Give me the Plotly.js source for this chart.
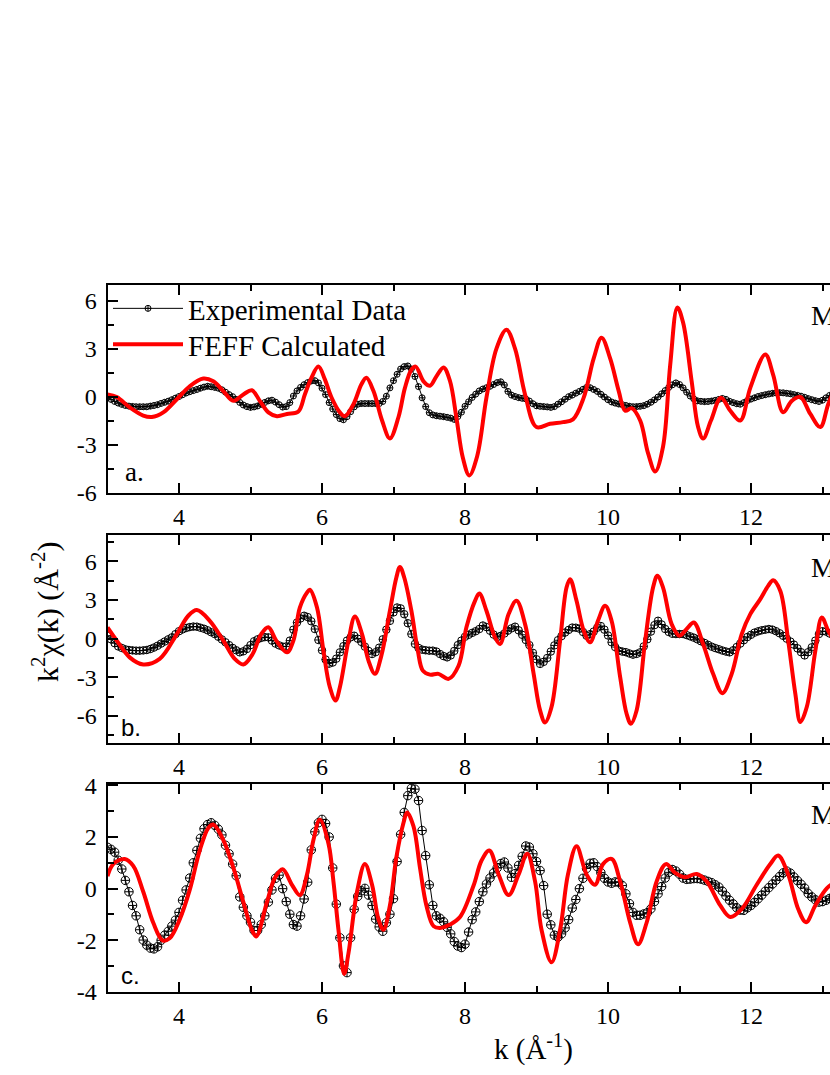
<!DOCTYPE html>
<html>
<head>
<meta charset="utf-8">
<script src="https://cdn.plot.ly/plotly-3.0.1.min.js"></script>
<style>
html,body{margin:0;padding:0;overflow:hidden;background:#fff;}
#chart{width:940px;height:1075px;}
</style>
</head>
<body>
<div id="chart"></div>
<script>
// ---------- DATA ----------
// Experimental data sampled every 0.05 Å^-1 starting at k = 3.00
const kStart = 3.0;
const kStep = 0.05;

const expA = [
-0.04,-0.15,-0.28,-0.38,-0.46,-0.53,-0.57,-0.59,-0.61,-0.61,-0.61,-0.61,-0.57,-0.53,-0.48,-0.40,-0.33,-0.26,-0.17,-0.07,
0.03,0.14,0.25,0.33,0.40,0.47,0.55,0.62,0.67,0.64,0.60,0.55,0.45,0.30,0.15,0.02,-0.15,-0.34,-0.50,-0.60,
-0.65,-0.62,-0.56,-0.46,-0.34,-0.24,-0.20,-0.32,-0.48,-0.63,-0.60,-0.35,0.06,0.38,0.60,0.77,0.90,1.00,1.02,0.88,
0.55,0.15,-0.35,-0.75,-1.10,-1.35,-1.42,-1.23,-0.92,-0.62,-0.45,-0.41,-0.41,-0.41,-0.41,-0.41,-0.41,-0.28,0.05,0.57,
1.02,1.42,1.75,1.90,1.94,1.75,1.28,0.65,-0.05,-0.60,-0.98,-1.12,-1.17,-1.20,-1.23,-1.27,-1.32,-1.40,-1.22,-0.95,
-0.58,-0.30,-0.03,0.18,0.38,0.50,0.58,0.67,0.78,0.90,0.95,0.75,0.35,0.12,0.03,-0.04,-0.08,-0.12,-0.25,-0.42,
-0.55,-0.58,-0.60,-0.62,-0.65,-0.60,-0.45,-0.30,-0.14,0.02,0.12,0.24,0.35,0.48,0.60,0.58,0.47,0.35,0.17,0.00,
-0.17,-0.31,-0.38,-0.44,-0.48,-0.53,-0.58,-0.61,-0.60,-0.58,-0.54,-0.45,-0.33,-0.18,0.00,0.20,0.40,0.60,0.76,0.88,
0.78,0.57,0.30,0.06,-0.12,-0.24,-0.27,-0.29,-0.28,-0.25,-0.21,-0.15,-0.09,-0.15,-0.27,-0.35,-0.42,-0.45,-0.35,-0.22,
-0.13,-0.05,0.03,0.09,0.14,0.19,0.23,0.26,0.27,0.26,0.23,0.20,0.15,0.10,0.05,-0.02,-0.10,-0.17,-0.23,-0.28,
-0.20,-0.05,0.10,0.20,0.25
];

const expB = [
0.23,-0.05,-0.35,-0.60,-0.72,-0.83,-0.88,-0.91,-0.93,-0.93,-0.91,-0.88,-0.80,-0.69,-0.55,-0.38,-0.22,-0.05,0.10,0.35,
0.58,0.72,0.83,0.90,0.94,0.93,0.85,0.77,0.65,0.50,0.36,0.15,-0.06,-0.28,-0.50,-0.72,-0.90,-1.06,-0.98,-0.80,
-0.50,-0.20,-0.05,0.06,0.12,0.10,-0.15,-0.38,-0.52,-0.62,-0.60,-0.15,0.70,1.25,1.58,1.78,1.68,1.35,0.75,-0.10,
-0.90,-1.62,-1.94,-1.85,-1.55,-1.06,-0.58,-0.15,0.10,0.23,0.00,-0.25,-0.62,-0.95,-1.19,-1.05,-0.70,-0.05,0.70,1.38,
2.04,2.42,2.35,1.90,1.20,0.36,-0.41,-0.72,-0.85,-0.90,-0.93,-0.93,-1.00,-1.19,-1.35,-1.45,-1.30,-0.95,-0.50,-0.15,
0.15,0.30,0.45,0.58,0.75,1.02,0.90,0.62,0.32,0.12,0.22,0.40,0.62,0.80,0.93,0.65,0.30,-0.10,-0.50,-1.10,
-1.60,-1.96,-1.80,-1.50,-1.00,-0.52,-0.12,0.20,0.48,0.68,0.86,0.85,0.78,0.52,0.23,0.35,0.55,0.85,0.98,0.70,
0.25,-0.28,-0.65,-0.93,-1.00,-1.05,-1.15,-1.24,-1.18,-1.06,-0.60,-0.05,0.55,1.05,1.39,1.10,0.75,0.52,0.38,0.36,
0.36,0.36,0.28,0.18,0.08,-0.05,-0.20,-0.33,-0.48,-0.62,-0.73,-0.82,-0.92,-1.00,-1.06,-0.90,-0.65,-0.38,-0.12,0.13,
0.30,0.47,0.57,0.65,0.70,0.75,0.70,0.58,0.42,0.22,0.00,-0.22,-0.46,-0.75,-1.05,-1.30,-1.05,-0.67,-0.15,0.36,
0.58,0.55,0.40,0.25,0.15
];

const expC = [
1.60,1.52,1.41,1.10,0.76,0.32,-0.12,-0.65,-1.05,-1.59,-1.99,-2.19,-2.30,-2.33,-2.25,-2.00,-1.80,-1.65,-1.45,-1.22,
-0.92,-0.45,-0.05,0.41,1.00,1.48,1.95,2.32,2.48,2.55,2.45,2.30,2.08,1.68,1.35,0.95,0.50,-0.32,-0.72,-1.05,
-1.30,-1.62,-1.62,-1.39,-1.05,-0.52,-0.05,0.40,0.52,0.00,-0.50,-0.99,-1.39,-1.45,-1.05,-0.40,0.25,1.50,2.20,2.55,
2.68,2.52,2.00,0.80,-0.60,-1.90,-2.99,-3.25,-1.90,-0.80,-0.30,-0.08,0.01,-0.25,-0.65,-1.18,-1.48,-1.65,-1.32,-0.99,
-0.39,1.05,2.10,2.95,3.60,3.88,3.85,3.41,2.25,1.28,0.15,-0.65,-1.05,-1.15,-1.28,-1.50,-1.75,-2.05,-2.22,-2.28,
-2.15,-1.68,-1.20,-0.90,-0.50,-0.12,0.18,0.41,0.61,0.80,0.97,1.03,0.80,0.44,0.58,0.90,1.25,1.65,1.61,1.35,
1.05,0.70,0.12,-0.99,-1.40,-1.80,-1.88,-1.75,-1.52,-1.20,-0.75,-0.42,0.00,0.40,0.78,0.98,1.00,0.85,0.62,0.40,
0.26,0.21,0.26,0.25,0.12,-0.20,-0.58,-0.92,-1.03,-1.03,-0.98,-0.93,-0.78,-0.50,-0.20,0.08,0.41,0.63,0.74,0.68,
0.56,0.41,0.36,0.37,0.39,0.39,0.37,0.33,0.28,0.23,0.15,0.06,-0.10,-0.28,-0.45,-0.59,-0.74,-0.83,-0.84,-0.74,
-0.65,-0.53,-0.39,-0.25,-0.10,0.04,0.18,0.33,0.47,0.61,0.68,0.60,0.45,0.31,0.17,0.02,-0.19,-0.32,-0.43,-0.52,
-0.50,-0.45,-0.38,-0.30,-0.25
];

// FEFF calculated curves (k positions and values)
const feffA_k = [3.0,3.13,3.31,3.50,3.62,3.78,3.97,4.15,4.34,4.48,4.62,4.76,4.90,5.02,5.13,5.25,5.37,5.51,5.67,5.76,5.85,5.95,6.04,6.13,6.25,6.32,6.44,6.55,6.62,6.72,6.84,6.95,7.07,7.16,7.25,7.31,7.42,7.51,7.60,7.70,7.79,7.88,7.97,8.06,8.17,8.30,8.44,8.58,8.70,8.84,9.00,9.19,9.37,9.51,9.66,9.80,9.91,10.03,10.15,10.24,10.33,10.45,10.56,10.66,10.77,10.87,10.97,11.05,11.17,11.26,11.33,11.44,11.58,11.71,11.85,11.99,12.20,12.31,12.45,12.57,12.69,12.83,12.97,13.08,13.2];
const feffA_v = [0.16,0.0,-0.65,-1.16,-1.25,-0.96,-0.14,0.67,1.15,0.98,0.37,-0.24,0.16,0.42,-0.24,-0.96,-1.2,-1.06,-0.9,0.16,1.18,1.9,1.1,0.0,-0.96,-1.2,-0.45,0.78,1.2,0.37,-1.47,-2.59,-1.25,0.57,1.70,1.9,0.98,0.70,1.29,1.85,1.0,-1.3,-3.8,-4.9,-3.7,-0.04,3.02,4.2,3.02,0.16,-1.88,-1.67,-1.57,-1.40,-0.04,2.41,3.7,2.41,0.37,-0.86,-0.70,-1.47,-3.51,-4.65,-3.1,2.0,5.6,4.65,0.98,-1.88,-2.6,-1.47,-0.05,-0.86,-1.47,0.57,2.65,1.39,-0.96,-0.24,0.0,-1.06,-1.88,-0.45,0.8];

const feffB_k = [3.0,3.13,3.31,3.50,3.73,3.97,4.13,4.25,4.43,4.62,4.78,4.90,5.03,5.15,5.25,5.36,5.51,5.60,5.69,5.79,5.83,5.93,6.02,6.11,6.19,6.25,6.37,6.46,6.56,6.65,6.74,6.83,6.95,7.04,7.09,7.15,7.25,7.34,7.41,7.51,7.63,7.77,7.91,8.02,8.14,8.20,8.30,8.42,8.49,8.61,8.72,8.84,8.96,9.05,9.12,9.21,9.33,9.42,9.47,9.56,9.66,9.75,9.86,9.96,10.05,10.17,10.26,10.32,10.40,10.52,10.63,10.69,10.77,10.89,11.0,11.10,11.20,11.33,11.47,11.60,11.73,11.87,11.99,12.13,12.24,12.31,12.41,12.52,12.62,12.69,12.78,12.90,12.99,13.08,13.2];
const feffB_v = [0.88,-0.15,-1.45,-2.0,-1.57,0.36,1.78,2.22,1.39,-0.15,-1.57,-2.0,-1.19,0.36,0.88,-0.15,-1.06,-0.15,2.42,3.58,3.8,2.42,-0.93,-3.77,-4.8,-3.77,-0.15,1.72,0.36,-1.7,-2.73,-1.32,2.17,4.75,5.57,4.75,2.17,-0.93,-2.48,-2.79,-2.73,-3.12,-2.1,0.88,2.94,3.51,2.17,0.1,-0.41,1.91,2.94,1.13,-2.73,-5.57,-6.5,-5.31,-0.15,3.97,4.62,2.94,0.62,-0.28,1.39,2.55,1.39,-2.98,-5.83,-6.6,-5.57,-0.15,3.97,4.88,3.97,1.13,0.23,0.75,1.26,-0.41,-2.73,-4.23,-2.73,0.36,1.91,3.07,4.10,4.54,3.71,-0.15,-4.28,-6.47,-5.31,-0.93,1.65,0.62,-0.5];

const feffC_k = [3.0,3.08,3.24,3.36,3.50,3.64,3.77,3.87,4.01,4.15,4.29,4.41,4.48,4.62,4.76,4.90,5.02,5.08,5.23,5.34,5.45,5.58,5.69,5.79,5.88,5.97,6.09,6.16,6.23,6.31,6.37,6.49,6.60,6.70,6.79,6.86,6.95,7.04,7.14,7.19,7.28,7.37,7.46,7.56,7.65,7.79,7.93,8.12,8.23,8.34,8.47,8.61,8.75,8.87,8.98,9.07,9.21,9.33,9.44,9.56,9.70,9.82,9.93,10.05,10.17,10.31,10.42,10.54,10.68,10.81,10.94,11.08,11.24,11.38,11.57,11.71,11.87,12.08,12.27,12.38,12.52,12.66,12.77,12.90,13.06,13.2];
const feffC_v = [0.48,0.95,1.15,0.88,-0.12,-1.32,-2.0,-1.92,-1.19,-0.05,1.48,2.35,2.48,1.88,0.81,-0.52,-1.6,-1.85,-0.52,0.41,0.75,0.15,-0.25,0.55,1.88,2.68,1.75,0.28,-1.59,-3.3,-2.5,-0.12,0.95,0.15,-1.19,-1.59,-0.65,1.21,2.55,2.95,2.41,0.81,-0.65,-1.45,-1.52,-1.39,-1.1,0.12,1.08,1.48,0.55,-0.25,0.55,1.35,0.28,-1.59,-2.85,-1.59,0.55,1.64,0.55,0.15,0.95,1.15,0.28,-1.32,-2.15,-1.32,0.28,0.95,0.61,0.44,0.57,0.28,-0.65,-1.1,-0.79,0.15,0.95,1.28,0.55,-0.79,-1.3,-0.65,0.01,0.3];

// Axis ticks / labels
const xTickVals = [4,6,8,10,12];
const xTickText = ["4","6","8","10","12"];
const yTickValsAB = [-6,-3,0,3,6];
const yTickTextAB = ["-6","-3","0","3","6"];
const yTickValsC = [-4,-2,0,2,4];
const yTickTextC = ["-4","-2","0","2","4"];
const panelLabels = ["a.","b.","c."];
const sampleLabels = ["M","M","M"];
const legendNames = ["Experimental Data","FEFF Calculated"];

// ---------- LAYOUT ----------
const W = 940, H = 1075;
const px = v => v / W;
const py = v => (H - v) / H;
const serif = "Liberation Serif, Times New Roman, serif";
const sans = "Liberation Sans, Arial, sans-serif";

const xDomain = [px(107.5), px(107.5 + 11*71.5)];
const panels = [
  {top:285, bottom:493, range:[-6,7], tv:yTickValsAB, tt:yTickTextAB, minor:1.5},
  {top:535, bottom:743, range:[-8.1,8.05], tv:yTickValsAB, tt:yTickTextAB, minor:1.5},
  {top:784, bottom:992, range:[-4,4.05], tv:yTickValsC, tt:yTickTextC, minor:1}
];

function xAxis(anchor){
  return {
    domain: xDomain, range:[3,14], anchor: anchor,
    tickmode:'array', tickvals:xTickVals, ticktext:xTickText,
    ticks:'inside', ticklen:10, tickwidth:2, tickcolor:'#000',
    minor:{dtick:1, tick0:3, ticks:'inside', ticklen:6, tickwidth:2, tickcolor:'#000'},
    showline:true, linewidth:2, linecolor:'#000', mirror:'ticks',
    showgrid:false, zeroline:false,
    tickfont:{family:serif, size:24, color:'#000'},
    ticklabelstandoff: 1
  };
}
function yAxis(p, anchor){
  return {
    domain:[py(p.bottom), py(p.top)], range:p.range, anchor:anchor,
    tickmode:'array', tickvals:p.tv, ticktext:p.tt,
    ticks:'inside', ticklen:10, tickwidth:2, tickcolor:'#000',
    minor:{dtick:p.minor, tick0:0, ticks:'inside', ticklen:6, tickwidth:2, tickcolor:'#000'},
    showline:true, linewidth:2, linecolor:'#000', mirror:'ticks',
    showgrid:false, zeroline:false,
    tickfont:{family:serif, size:24, color:'#000'},
    ticklabelstandoff: 4
  };
}

const expSeries = [expA, expB, expC];
const feffK = [feffA_k, feffB_k, feffC_k];
const feffV = [feffA_v, feffB_v, feffC_v];
const markerSizes = [6, 7.5, 8.5];

const traces = [];
for (let i = 0; i < 3; i++) {
  const xa = i === 0 ? 'x' : 'x' + (i+1);
  const ya = i === 0 ? 'y' : 'y' + (i+1);
  traces.push({
    type:'scatter', mode:'lines+markers', name:legendNames[0],
    x0:kStart, dx:kStep, y:expSeries[i], xaxis:xa, yaxis:ya,
    line:{color:'#000', width:1},
    marker:{symbol:'circle-cross-open', size:markerSizes[i], color:'#000', line:{width:1, color:'#000'}},
    showlegend: i === 0, legend:'legend'
  });
  traces.push({
    type:'scatter', mode:'lines', name:legendNames[1],
    x:feffK[i], y:feffV[i], xaxis:xa, yaxis:ya,
    line:{color:'#ff0000', width:4, shape:'spline', smoothing:1},
    showlegend: i === 0, legend:'legend2'
  });
}

const annotations = [];
const labelPos = [[134,472,serif,27],[131,727,sans,24],[130,975,sans,24]];
const mPos = [315, 567, 814];
for (let i = 0; i < 3; i++) {
  annotations.push({xref:'paper', yref:'paper', x:px(labelPos[i][0]), y:py(labelPos[i][1]),
    text:panelLabels[i], showarrow:false, xanchor:'center', yanchor:'middle',
    font:{family:labelPos[i][2], size:labelPos[i][3], color:'#000'}});
  annotations.push({xref:'paper', yref:'paper', x:px(809), y:py(mPos[i]),
    text:sampleLabels[i], showarrow:false, xanchor:'left', yanchor:'middle',
    font:{family:serif, size:28, color:'#000'}});
}
annotations.push({xref:'paper', yref:'paper', x:px(45), y:py(612),
  text:'k<sup>2</sup>χ(k) (Å<sup>-2</sup>)', textangle:-90, showarrow:false,
  xanchor:'center', yanchor:'middle', font:{family:serif, size:30, color:'#000'}});
annotations.push({xref:'paper', yref:'paper', x:px(533), y:py(1047),
  text:'k (Å<sup>-1</sup>)', showarrow:false,
  xanchor:'center', yanchor:'middle', font:{family:serif, size:29, color:'#000'}});

const legendBase = {xanchor:'left', yanchor:'top', bgcolor:'rgba(0,0,0,0)', borderwidth:0,
  itemwidth:70, font:{family:serif, size:29, color:'#000'}};

const layout = {
  width:W, height:H,
  margin:{l:0, r:0, t:0, b:0},
  paper_bgcolor:'#fff', plot_bgcolor:'#fff',
  font:{family:serif, size:24, color:'#000'},
  showlegend:true,
  legend: Object.assign({}, legendBase, {x:px(108), y:py(283)}),
  legend2: Object.assign({}, legendBase, {x:px(108), y:py(319)}),
  xaxis: xAxis('y'), yaxis: yAxis(panels[0], 'x'),
  xaxis2: xAxis('y2'), yaxis2: yAxis(panels[1], 'x2'),
  xaxis3: xAxis('y3'), yaxis3: yAxis(panels[2], 'x3'),
  annotations: annotations
};

Plotly.newPlot('chart', traces, layout, {displayModeBar:false, staticPlot:true});
</script>
</body>
</html>
